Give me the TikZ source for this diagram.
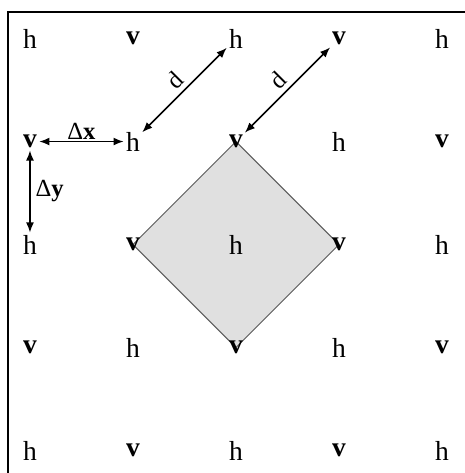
\documentclass[tikz,border=0pt]{standalone}
\usepackage{fontspec}
\setmainfont{Liberation Serif}
\usetikzlibrary{backgrounds, arrows.meta}
\begin{document}
\begin{tikzpicture}[x=2.5cm, y=2.5cm, >={Latex[length=7pt, width=5.5pt]},
    hnodo/.style={inner sep=1.5pt, font=\fontsize{19}{19}\selectfont},
    vnodo/.style={inner sep=1.5pt, font=\fontsize{19}{19}\selectfont\bfseries},
    cota/.style={<->, line width=1pt},
    etiq/.style={font=\fontsize{17}{17}\selectfont}]
    \useasboundingbox (-0.291,-4.218) rectangle (4.223,0.374);

    % Marco (bordes superior e izquierdo)
    \draw[line width=1.6pt] (-0.214,-4.218) |- (4.223,0.257);

    % Malla de puntos h y v
    \foreach \i in {0,...,4} {
        \foreach \j in {0,...,4} {
            \pgfmathtruncatemacro{\k}{mod(\i+\j,2)}
            \ifnum\k=0
                \node[hnodo] (n\i\j) at (\i,-\j) {h};
            \else
                \node[vnodo] (n\i\j) at (\i,-\j) {v};
            \fi
        }
    }

    % Rombo sombreado entre los puntos v
    \begin{scope}[on background layer]
        \filldraw[fill=gray!24, draw=black!65, line width=0.7pt]
            (n21.center) -- (n32.center) -- (n23.center) -- (n12.center) -- cycle;
    \end{scope}

    % Cotas de la malla
    \draw[cota] (n01) -- (n11) node[midway, above, inner sep=1pt, etiq] {Δ\textbf{x}};
    \draw[cota] (n01) -- (n02) node[midway, right, etiq] {Δ\textbf{y}};
    \draw[cota] (n11) -- (n20) node[midway, above, sloped, etiq] {d};
    \draw[cota] (n21) -- (n30) node[midway, above, sloped, etiq] {d};
\end{tikzpicture}
\end{document}
